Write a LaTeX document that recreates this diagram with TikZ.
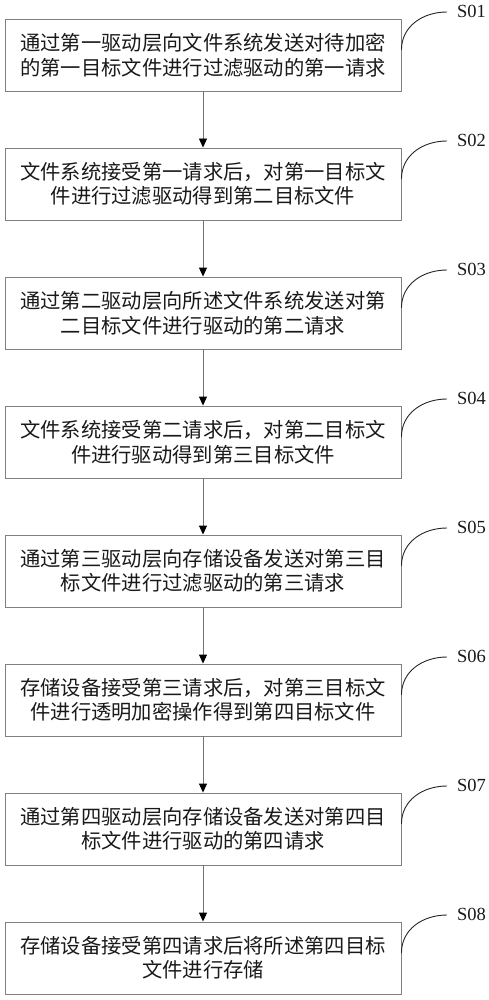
\documentclass[tikz,border=0pt]{standalone}
\usepackage{fontspec}
\newfontfamily\cjk{Noto Sans CJK SC}
\setmainfont{Liberation Serif}
\usetikzlibrary{arrows.meta}
\begin{document}
\begin{tikzpicture}[x=1pt,y=-1pt,
  stepbox/.style={draw=black!50, line width=0.9pt, minimum width=396pt, minimum height=72pt,
    inner sep=0pt, align=center, text=black!90,
    font=\cjk\fontsize{20.3pt}{24.5pt}\selectfont},
  conn/.style={draw=black!55, line width=0.9pt, -{Triangle[length=9pt,width=8pt,fill=black,color=black]}},
  tag/.style={anchor=west, inner sep=3pt, font=\fontsize{18.5pt}{20pt}\selectfont, text=black!90},
  tagline/.style={draw=black!85, line width=0.9pt}]
\useasboundingbox (0,0) rectangle (488,1000);

% process steps, 129pt apart
\node[stepbox] (b1) at (203,55)  {通过第一驱动层向文件系统发送对待加密\\的第一目标文件进行过滤驱动的第一请求};
\node[stepbox] (b2) at (203,184) {文件系统接受第一请求后，对第一目标文\\件进行过滤驱动得到第二目标文件};
\node[stepbox] (b3) at (203,313) {通过第二驱动层向所述文件系统发送对第\\二目标文件进行驱动的第二请求};
\node[stepbox] (b4) at (203,442) {文件系统接受第二请求后，对第二目标文\\件进行驱动得到第三目标文件};
\node[stepbox] (b5) at (203,571) {通过第三驱动层向存储设备发送对第三目\\标文件进行过滤驱动的第三请求};
\node[stepbox] (b6) at (203,700) {存储设备接受第三请求后，对第三目标文\\件进行透明加密操作得到第四目标文件};
\node[stepbox] (b7) at (203,829) {通过第四驱动层向存储设备发送对第四目\\标文件进行驱动的第四请求};
\node[stepbox] (b8) at (203,958) {存储设备接受第四请求后将所述第四目标\\文件进行存储};

% step labels
\node[tag] (t1) at (454,11)  {S01};
\node[tag] (t2) at (454,140) {S02};
\node[tag] (t3) at (454,269) {S03};
\node[tag] (t4) at (454,398) {S04};
\node[tag] (t5) at (454,527) {S05};
\node[tag] (t6) at (454,656) {S06};
\node[tag] (t7) at (454,785) {S07};
\node[tag] (t8) at (454,914) {S08};

% flow arrows
\foreach \a/\b in {b1/b2,b2/b3,b3/b4,b4/b5,b5/b6,b6/b7,b7/b8}
  \draw[conn] (\a.south) -- (\b.north);

% leader curves from boxes to labels
\foreach \i in {1,...,8}
  \draw[tagline] ([yshift=5pt]b\i.east) .. controls +(0,-24) and +(-24,0) .. ([xshift=-7pt,yshift=-1pt]t\i.west);
\end{tikzpicture}
\end{document}
